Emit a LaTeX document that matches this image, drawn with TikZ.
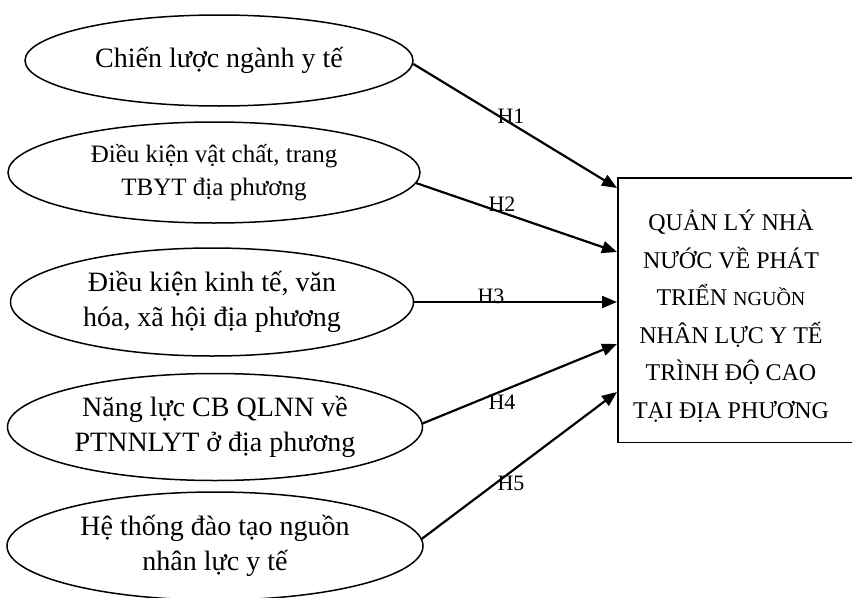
\documentclass[tikz,border=0pt]{standalone}
\usepackage{fontspec}
\setmainfont{Liberation Serif}
\usetikzlibrary{arrows.meta,shapes.geometric}

\begin{document}
\begin{tikzpicture}[x=1pt,y=-1pt,
  factor/.style={ellipse, draw, line width=1.5pt, inner sep=0pt, align=center,
                 font=\fontsize{28}{35}\selectfont},
  link/.style={line width=2.2pt, -{Triangle[length=15pt,width=12pt]}},
  hlabel/.style={font=\fontsize{22}{26}\selectfont, inner sep=0pt},
  goalbox/.style={rectangle, anchor=north west,
                  minimum width=234pt, minimum height=264pt, inner sep=0pt}
]
\useasboundingbox (0,0) rectangle (853,597);
\begin{scope}
\clip (0,0) rectangle (853,597);

% influencing factors
\node[factor, minimum width=388pt, minimum height=91pt] (e1) at (219,60.5)
  {Chiến lược ngành y tế};
\node[factor, minimum width=412pt, minimum height=101pt,
      font=\fontsize{25}{33}\selectfont] (e2) at (214,172.5)
  {Điều kiện vật chất, trang\\TBYT địa phương};
\node[factor, minimum width=403pt, minimum height=108pt] (e3) at (212,302)
  {Điều kiện kinh tế, văn\\hóa, xã hội địa phương};
\node[factor, minimum width=415pt, minimum height=107pt] (e4) at (215,427)
  {Năng lực CB QLNN về\\PTNNLYT ở địa phương};
\node[factor, minimum width=416pt, minimum height=108pt] (e5) at (215,546)
  {Hệ thống đào tạo nguồn\\nhân lực y tế};
\end{scope}

% outcome box, open towards the right edge
\node[goalbox] (box) at (618,178) {};
\draw[line width=1.5pt] (box.north east) -- (box.north west)
  -- (box.south west) -- (box.south east);
\node[align=center, inner sep=0pt, font=\fontsize{24}{37.5}\selectfont] (goal) at (731,316)
  {QUẢN LÝ NHÀ\\NƯỚC VỀ PHÁT\\TRIỂN {\fontsize{20}{37.5}\selectfont NGUỒN}\\NHÂN LỰC Y TẾ\\TRÌNH ĐỘ CAO\\TẠI ĐỊA PHƯƠNG};

% arrow targets on the left side of the box
\coordinate (t1) at (617,188);
\coordinate (t2) at (617,252);
\coordinate (t3) at (617,302);
\coordinate (t4) at (617,344);
\coordinate (t5) at (617,392);

% hypotheses
\draw[link] (e1.-1.5) -- (t1);
\draw[link] (e2.-3) -- (t2);
\draw[link] (e3.east) -- (t3);
\draw[link] (e4.1) -- (t4);
\draw[link] (e5.2.5) -- (t5);

\node[hlabel] (h1) at (511,116) {H1};
\node[hlabel] (h2) at (502,204) {H2};
\node[hlabel] (h3) at (491,296) {H3};
\node[hlabel] (h4) at (502,402) {H4};
\node[hlabel] (h5) at (511,483) {H5};
\end{tikzpicture}
\end{document}
